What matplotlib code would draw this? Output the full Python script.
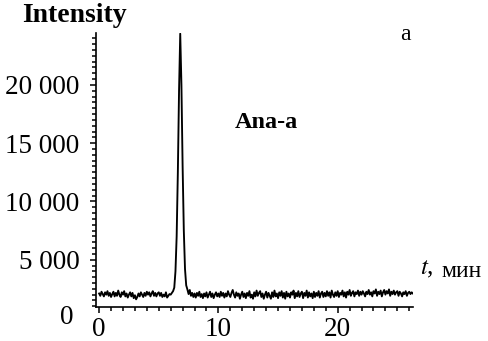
import numpy as np
import matplotlib
matplotlib.use("Agg")
import matplotlib.pyplot as plt
from matplotlib.ticker import MultipleLocator
import matplotlib.transforms as mtransforms

plt.rcParams['font.family'] = ['Liberation Serif', 'DejaVu Serif']

# chromatogram, sampled every 0.1 min
t_step = 0.1
intensity = [
    2100, 1900, 2250, 2050, 1850, 2200, 2000, 2300, 1900, 2150,
    1800, 2050, 2250, 1850, 2150, 1900, 2350, 2000, 1800, 2200,
    2000, 2300, 1850, 2100, 1750, 2000, 2200, 1850, 2150, 1700,
    1950, 1600, 1800, 2100, 1850, 2200, 2000, 1800, 2150, 1900,
    2250, 2000, 2200, 1850, 2100, 2300, 1900, 2150, 1850, 2100,
    2200, 1900, 2150, 1800, 2000, 1850, 2200, 1750, 1900, 2050,
    2000, 2150, 2300, 2600, 4000, 7000, 12500, 19500, 24400, 20000,
    13000, 7500, 4200, 2800, 2450, 2050, 2400, 1900, 2150, 1800,
    2100, 1750, 2150, 1900, 2250, 1800, 2050, 1700, 2100, 1850,
    2200, 1750, 2000, 2250, 1800, 2100, 1700, 2000, 2200, 1850,
    2100, 1800, 2250, 1900, 2150, 1750, 2100, 1850, 2300, 2000,
    1800, 2150, 2400, 2000, 1750, 2200, 1900, 2100, 1650, 2000,
    2250, 1800, 2100, 1700, 2150, 1900, 2300, 1750, 2000, 1650,
    2200, 1850, 2350, 1900, 2150, 2300, 1800, 2100, 1650, 2000,
    2250, 1750, 2150, 1900, 1650, 2200, 1800, 2350, 1850, 2100,
    1700, 2200, 1900, 2300, 1750, 2150, 1650, 2250, 1850, 2100,
    1750, 2200, 2000, 2350, 1700, 2150, 1850, 2300, 1800, 2100,
    2250, 1700, 2150, 1900, 2350, 1750, 2200, 1850, 2100, 1700,
    2250, 1800, 2150, 1900, 2300, 1750, 2100, 2250, 1800, 2150,
    1850, 2300, 1900, 2200, 1750, 2350, 2000, 1800, 2200, 1900,
    2300, 1800, 2150, 2000, 2350, 1850, 2200, 1750, 2250, 2000,
    2400, 1900, 2150, 2300, 1850, 2200, 2050, 2350, 1900, 2250,
    2000, 2300, 2100, 1850, 2250, 2050, 2400, 2000, 2200, 1850,
    2300, 2100, 2450, 1900, 2250, 2050, 2350, 1850, 2200, 2400,
    2000, 2300, 2100, 2450, 1900, 2250, 2050, 2350, 2000, 2200,
    2300, 1900, 2250, 2100, 1850, 2200, 2050, 2300, 1900, 2150,
    2250, 2050, 2200, 2100,
]
t = np.arange(len(intensity)) * t_step

x_ticks = [0, 10, 20]
y_ticks = [5000, 10000, 15000, 20000]
y_labels = ['5 000', '10 000', '15 000', '20 000']

fig = plt.figure(figsize=(4.88, 3.41), dpi=100)
ax = fig.add_axes([0.197, 0.0997, 0.649, 0.803])

ax.plot(t, intensity, color='black', lw=1.35)

ax.set_xlim(-0.25, 26.3)
ax.set_ylim(940, 24440)

for s in ['top', 'right']:
    ax.spines[s].set_visible(False)
for s in ['left', 'bottom']:
    ax.spines[s].set_linewidth(1.2)

ax.set_xticks(x_ticks)
ax.set_xticklabels([str(v) for v in x_ticks])
ax.set_yticks(y_ticks)
ax.set_yticklabels(y_labels)
ax.xaxis.set_minor_locator(MultipleLocator(1))
ax.yaxis.set_minor_locator(MultipleLocator(500))
ax.tick_params(which='major', direction='out', length=4, width=1.1, labelsize=19.5)
ax.tick_params(which='minor', direction='out', length=3, width=1.1)
ax.tick_params(axis='x', which='major', pad=3)
ax.tick_params(axis='y', which='major', pad=8)

# "0" for the intensity axis sits below the drawn range
trans = mtransforms.blended_transform_factory(ax.transAxes, ax.transData)
ax.text(-0.07, 0, '0', transform=trans, ha='right', va='center',
        fontsize=19.5, clip_on=False)

fig.text(0.045, 0.956, 'Intensity', fontsize=20, fontweight='bold',
         ha='left', va='center')
ax.text(0.536, 0.672, 'Ana-a', transform=ax.transAxes, fontsize=17.5,
        fontweight='bold', ha='center', va='center')
fig.text(0.83, 0.898, 'a', fontsize=17, ha='center', va='center')
fig.text(0.86, 0.21, r'$t$,', fontsize=18, ha='left', va='center',
         math_fontfamily='stix')
fig.text(0.905, 0.205, 'мин', fontsize=17, ha='left', va='center')

fig.savefig('out.png', dpi=100)
